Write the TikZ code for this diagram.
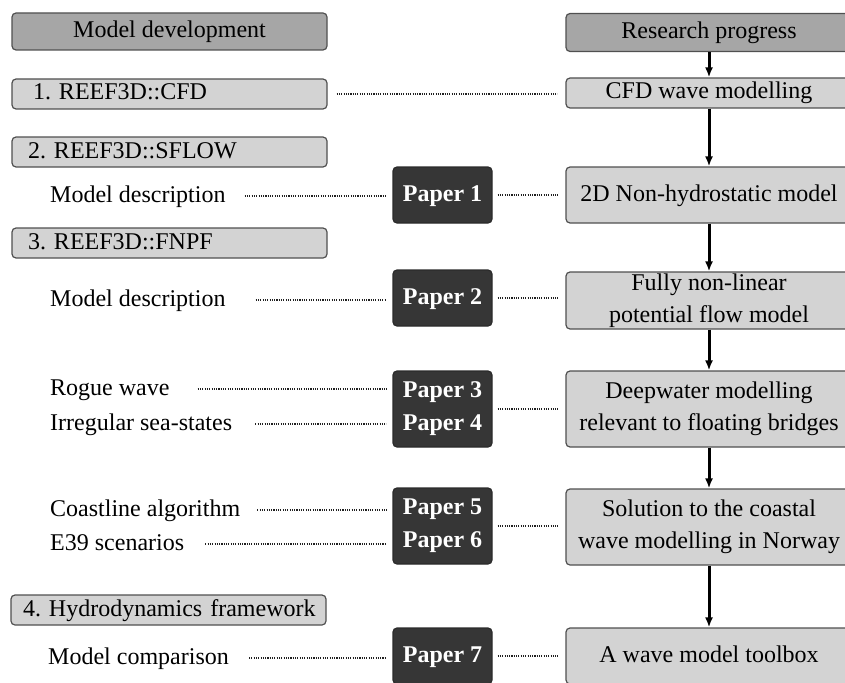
\documentclass[tikz,border=0pt]{standalone}
\usepackage{fontspec}
\setmainfont{Liberation Serif}
\usetikzlibrary{arrows.meta,calc}
\definecolor{headfill}{HTML}{A6A6A6}
\definecolor{lightfill}{HTML}{D3D3D3}
\definecolor{darkfill}{HTML}{363636}
\definecolor{bordc}{HTML}{505050}
\definecolor{dotc}{HTML}{202020}
\begin{document}
\begin{tikzpicture}[x=1pt,y=-1pt,
  every node/.style={font=\fontsize{24}{30}\selectfont\frenchspacing},
  box/.style={draw=bordc, line width=1.2pt, rounded corners=4pt, inner sep=0pt},
  oneline/.style={text height=16.8pt, text depth=4.8pt},
  head/.style={box, oneline, fill=headfill},
  lbox/.style={box, oneline, fill=lightfill, align=left, minimum height=30pt},
  rbox/.style={box, oneline, fill=lightfill, minimum width=286pt},
  rboxm/.style={box, fill=lightfill, minimum width=286pt, align=center, font=\fontsize{24}{32}\selectfont},
  paper/.style={box, oneline, fill=darkfill, draw=darkfill!80!black, text=white, minimum width=99pt, font=\fontsize{24}{30}\selectfont\bfseries},
  paperm/.style={box, fill=darkfill, draw=darkfill!80!black, text=white, minimum width=99pt, align=center, font=\fontsize{24}{33}\selectfont\bfseries},
  txt/.style={anchor=west, inner sep=0pt, oneline},
  arr/.style={line width=3pt, -{Latex[length=10pt,width=8pt]}},
  dots/.style={line width=1.3pt, dotc, dash pattern=on 1.1pt off 1.2pt}
]
\useasboundingbox (0,0) rectangle (845,682);

% headers
\node[head, minimum width=315pt, minimum height=37pt] (mdev) at (169.5,31.5) {Model development};
\node[head, minimum width=286pt, minimum height=38pt] (rprog) at (709,32.5) {Research progress};

% row 1
\node[lbox, text width=273pt, inner xsep=21pt] (cfd) at (169.5,94) {\mbox{1. REEF3D::CFD}};
\node[rbox, minimum height=30pt] (cfdw) at (709,93) {CFD wave modelling};

% row 2
\node[lbox, text width=283pt, inner xsep=16pt] (sflow) at (169.5,152) {\mbox{2. REEF3D::SFLOW}};
\node[txt] (md1) at (50,196) {Model description};
\node[paper, minimum height=56pt] (p1) at (442.5,195) {Paper 1};
\node[rbox, minimum height=56pt] (nh) at (709,195) {2D Non-hydrostatic model};

% row 3
\node[lbox, text width=283pt, inner xsep=16pt] (fnpf) at (169.5,243) {\mbox{3. REEF3D::FNPF}};
\node[txt] (md2) at (50,300) {Model description};
\node[paper, minimum height=56pt] (p2) at (442.5,298) {Paper 2};
\node[rboxm, minimum height=57pt] (fnl) at (709,300.5) {Fully non-linear\\potential flow model};

% row 4
\node[txt] (rw) at (50,389) {Rogue wave};
\node[txt] (irr) at (50,424) {Irregular sea-states};
\node[paperm, minimum height=76pt] (p34) at (442.5,409) {Paper 3\\Paper 4};
\node[rboxm, minimum height=76pt] (deep) at (709,409) {Deepwater modelling\\relevant to floating bridges};

% row 5
\node[txt] (coast) at (50,510) {Coastline algorithm};
\node[txt] (e39) at (50,544) {E39 scenarios};
\node[paperm, minimum height=76pt] (p56) at (442.5,526) {Paper 5\\Paper 6};
\node[rboxm, minimum height=76pt] (sol) at (709,527) {Solution to the coastal\\wave modelling in Norway};

% row 6
\node[lbox, text width=291pt, inner xsep=12pt] (hydro) at (168.5,610) {\mbox{4. Hydrodynamics framework}};
\node[txt] (mc) at (48,658) {Model comparison};
\node[paper, minimum height=56pt] (p7) at (442.5,656) {Paper 7};
\node[rbox, minimum height=56pt] (tool) at (709,656) {A wave model toolbox};

% arrows
\draw[arr] (rprog) -- (cfdw);
\draw[arr] (cfdw) -- (nh);
\draw[arr] (nh) -- (fnl);
\draw[arr] (fnl) -- (deep);
\draw[arr] (deep) -- (sol);
\draw[arr] (sol) -- (tool);

% dotted connectors
\draw[dots, shorten <=9pt, shorten >=8pt] (cfd.east) -- (cfd.east -| cfdw.west);
\draw[dots, shorten <=19pt, shorten >=6pt] (md1.east) -- (md1.east -| p1.west);
\draw[dots, shorten <=5pt, shorten >=7pt] (p1.east) -- (p1.east -| nh.west);
\draw[dots, shorten <=30pt, shorten >=6pt] (md2.east) -- (md2.east -| p2.west);
\draw[dots, shorten <=5pt, shorten >=7pt] (p2.east) -- (p2.east -| fnl.west);
\draw[dots, shorten <=28pt, shorten >=6pt] (rw.east) -- (rw.east -| p34.west);
\draw[dots, shorten <=23pt, shorten >=6pt] (irr.east) -- (irr.east -| p34.west);
\draw[dots, shorten <=5pt, shorten >=7pt] (p34.east) -- (p34.east -| deep.west);
\draw[dots, shorten <=17pt, shorten >=6pt] (coast.east) -- (coast.east -| p56.west);
\draw[dots, shorten <=21pt, shorten >=6pt] (e39.east) -- (e39.east -| p56.west);
\draw[dots, shorten <=5pt, shorten >=7pt] (p56.east) -- (p56.east -| sol.west);
\draw[dots, shorten <=20pt, shorten >=6pt] (mc.east) -- (mc.east -| p7.west);
\draw[dots, shorten <=5pt, shorten >=7pt] (p7.east) -- (p7.east -| tool.west);
\end{tikzpicture}
\end{document}
